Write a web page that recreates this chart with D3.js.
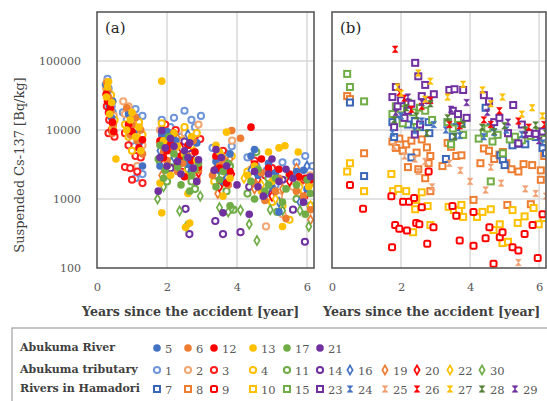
<!DOCTYPE html>
<html>
<head>
<meta charset="utf-8">
<script src="https://cdn.jsdelivr.net/npm/d3@7"></script>
<style>
  body { margin: 0; background: #fff; }
  svg text { font-family: "DejaVu Serif", serif; }
</style>
</head>
<body>
<script>
// tick values
var xTicks = [0, 2, 4, 6];
var yTicks = [100, 1000, 10000, 100000];

// legend groups (row label -> station ids)
var rowLabels = ["Abukuma River", "Abukuma tributary", "Rivers in Hamadori"];
var riverIds = ["5", "6", "12", "13", "17", "21"];
var tributaryIds = ["1", "2", "3", "4", "11", "14", "16", "19", "20", "22", "30"];
var hamadoriIds = ["7", "8", "9", "10", "15", "23", "24", "25", "26", "27", "28", "29"];

// ---- panel (a): [years, Bq/kg] ----
// Abukuma River (filled circles)
var st5 = [[0.3,36000],[0.35,22000],[0.42,15000],[0.26,45000],[0.45,26000],[0.9,17000],[1.05,9000],[1.2,6500],[1.3,3000],[1.85,8500],[1.8,3000],[2.0,9500],[2.1,5200],[2.25,7000],[2.4,3800],[2.6,3200],[2.7,2600],[2.85,6500],[3.4,3500],[3.5,2600],[3.6,1800],[3.8,4500],[4.4,4200],[4.5,5200],[4.6,2200],[4.9,3300],[5.0,1500],[5.1,2400],[5.2,650],[5.7,2500],[5.9,2600],[6.0,1400]];
var st6 = [[0.28,48000],[0.3,38000],[0.33,30000],[0.36,26000],[0.4,19000],[0.44,9000],[0.46,12000],[0.85,21000],[0.95,8500],[1.0,12000],[1.1,15000],[1.15,7000],[1.25,10000],[1.3,4500],[1.8,6500],[1.9,4800],[2.0,3600],[2.15,5500],[2.3,2500],[2.45,3300],[2.6,4200],[2.75,7000],[2.85,1800],[2.9,2600],[3.3,2200],[3.5,3000],[3.6,3800],[3.75,1600],[3.85,9800],[4.1,7600],[4.5,1700],[4.7,2400],[4.8,950],[5.1,1300],[5.2,2000],[5.4,520],[5.7,1300],[5.9,1100],[6.05,1600],[6.1,700]];
var st12 = [[0.26,33000],[0.3,26000],[0.33,18000],[0.38,21000],[0.44,13000],[0.48,9500],[0.9,12000],[1.0,9500],[1.2,5500],[1.3,7200],[1.8,7000],[1.9,4000],[2.0,5000],[2.1,6200],[2.2,9000],[2.3,3000],[2.4,4200],[2.5,2100],[2.6,6000],[2.7,3600],[2.8,4800],[2.9,2900],[3.4,4200],[3.5,2800],[3.7,1700],[3.8,2500],[4.4,11000],[4.5,3200],[4.7,3800],[4.9,2800],[5.2,2700],[5.5,2300],[5.77,2100],[5.95,2000],[6.1,1900]];
var st13 = [[0.27,30000],[0.3,42000],[0.33,50000],[0.36,17000],[0.42,25000],[0.54,3800],[0.85,10000],[0.95,14000],[1.0,18000],[1.1,8000],[1.2,11000],[1.25,5000],[1.85,51000],[1.8,1700],[1.85,630],[1.9,7000],[2.0,3000],[2.1,2200],[2.2,9000],[2.3,5800],[2.5,4500],[2.6,1200],[2.53,390],[2.65,450],[2.7,8000],[2.85,3600],[3.4,6000],[3.5,4800],[3.7,9300],[3.6,1100],[3.8,2000],[4.3,2200],[4.5,3000],[4.7,1300],[4.9,4800],[5.2,5500],[5.37,5900],[5.0,1800],[5.75,4800],[5.3,400],[6.05,1500]];
var st17 = [[1.75,3800],[1.8,6000],[1.9,2000],[1.95,2600],[2.05,8000],[2.2,4500],[2.3,2900],[2.4,1600],[2.55,4000],[2.65,1300],[2.7,2200],[2.8,2700],[2.9,3300],[3.4,1500],[3.5,1900],[3.6,2500],[3.75,3300],[3.8,800],[4.4,1800],[4.5,1000],[4.6,2700],[4.8,1300],[4.9,1600],[5.1,2000],[5.3,900],[5.4,1400],[5.7,1600],[5.95,600],[6.0,1900],[6.1,1200]];
var st21 = [[1.75,1300],[1.8,4000],[1.85,9800],[1.95,5500],[2.0,3000],[2.1,7500],[2.2,5800],[2.3,3500],[2.4,2300],[2.5,5000],[2.6,4000],[2.65,6500],[2.75,2800],[2.85,1800],[2.9,3700],[3.35,2600],[3.4,5200],[3.55,4000],[3.6,630],[3.7,3000],[4.0,1600],[4.35,600],[4.5,2500],[4.6,1500],[4.75,1100],[4.9,2300],[5.0,3800],[5.2,1800],[5.4,2700],[5.6,2000],[5.9,900],[6.1,2100]];
// Abukuma tributaries (open circles, diamonds)
var st1 = [[0.25,45000],[0.3,55000],[0.33,40000],[0.38,30000],[0.42,22000],[0.45,18000],[0.74,18000],[0.85,14000],[0.95,11000],[1.0,7000],[1.1,20000],[1.2,15000],[1.3,16000],[1.3,2300],[1.1,2000],[1.85,14000],[1.9,9000],[2.1,11000],[2.2,15000],[2.3,6500],[2.4,8000],[2.5,19000],[2.7,14000],[2.8,11000],[2.85,7000],[2.97,16000],[3.3,5500],[3.4,2500],[3.5,3500],[3.65,4700],[3.85,5800],[4.3,4000],[4.55,3000],[4.85,2600],[5.1,1600],[5.3,3400],[5.7,3400],[5.95,4200],[6.15,3000]];
var st2 = [[0.26,40000],[0.28,50000],[0.31,22000],[0.34,35000],[0.4,25000],[0.44,13000],[0.48,16000],[0.75,26000],[0.8,17000],[0.9,22000],[1.0,9000],[1.05,16000],[1.2,11000],[1.25,5000],[1.3,6000],[1.15,3000],[1.8,10000],[1.95,4000],[2.05,7000],[2.2,6000],[2.35,4800],[2.5,9000],[2.65,3000],[2.75,5000],[2.9,12000],[2.85,2000],[3.35,2600],[3.4,4000],[3.5,1500],[3.7,2800],[3.86,7000],[4.4,2700],[4.6,1700],[4.83,400],[5.2,1100],[5.6,1500],[5.8,1700],[6.1,2200],[5.3,600]];
var st3 = [[0.28,22000],[0.33,9000],[0.35,14000],[0.42,10000],[0.46,12500],[0.5,8000],[0.8,9000],[0.9,6000],[0.8,2900],[0.95,2800],[1.0,1900],[1.1,4200],[1.15,2500],[1.25,4000],[1.3,1700],[1.85,6200],[1.95,12000],[2.05,4500],[2.15,8000],[2.25,10000],[2.4,2500],[2.6,5200],[2.75,3200],[2.8,7400],[2.95,7400],[3.4,2000],[3.5,3000],[3.6,5000],[4.5,3600],[4.8,2200],[5.0,2800],[5.9,1900]];
var st4 = [[0.3,38000],[0.36,24000],[0.4,32000],[0.45,11000],[0.5,14000],[0.8,12000],[0.9,8000],[1.0,5000],[1.1,10000],[1.2,13000],[1.3,8500],[1.85,12500],[1.95,8000],[2.05,4200],[2.2,3000],[2.4,7000],[2.5,11000],[2.6,2200],[2.7,6000],[2.85,9000],[3.35,1800],[3.45,3000],[3.55,2200],[3.75,3500],[3.85,4200],[4.3,2500],[4.6,1500],[5.0,900],[5.3,800],[5.75,1200],[6.1,1700],[5.5,500]];
var st11 = [[1.8,3500],[1.9,5200],[2.0,1800],[2.15,3500],[2.25,6000],[2.45,4300],[2.6,2700],[2.7,1800],[2.8,1400],[3.4,2200],[3.55,1700],[3.7,1300],[3.8,3000],[3.9,700],[4.3,1200],[4.55,4800],[4.9,2000],[5.15,650],[5.5,2200],[5.7,1000],[6.1,800]];
var st14 = [[1.85,5000],[1.9,8000],[2.1,2800],[2.3,4000],[2.5,6800],[2.64,310],[2.53,720],[2.7,4500],[2.85,3100],[3.38,480],[3.45,2800],[3.6,310],[3.7,1900],[4.1,330],[4.35,1500],[4.6,2500],[5.0,1200],[5.3,1900],[5.6,700],[5.94,240],[6.05,2000]];
var st16 = [[1.8,5000],[2.2,4000],[2.6,8500],[3.4,4300],[3.7,2000],[4.4,2600],[4.8,1100],[5.2,900],[5.8,900],[6.0,3000]];
var st19 = [[1.85,2200],[2.3,7500],[2.8,3200],[3.45,1200],[3.8,3800],[4.5,1400],[4.9,3100],[5.3,1400],[5.7,2800],[6.1,500]];
var st20 = [[1.9,3300],[2.4,5500],[2.9,2400],[3.5,1500],[3.85,2300],[4.6,1900],[5.0,1100],[5.5,1800],[6.0,1200]];
var st22 = [[1.95,7000],[2.5,2300],[3.6,4000],[4.2,2000],[4.7,1600],[5.1,1000],[5.8,1500],[6.1,800]];
var st30 = [[1.73,1000],[1.9,1500],[2.36,670],[2.55,400],[2.95,1100],[3.5,750],[3.75,650],[3.85,740],[4.1,690],[4.35,430],[4.57,250],[4.95,700],[5.3,680],[5.8,680],[6.05,400]];

// ---- panel (b): Rivers in Hamadori ----
var st7 = [[0.52,25000],[0.93,2150],[1.75,13000],[1.8,7900],[2.05,14000],[2.2,12000],[2.4,13500],[2.55,11000],[2.8,13000],[2.82,9000],[2.3,4000],[1.9,17000],[3.35,13000],[3.6,11000],[3.75,12500],[3.5,8000],[3.3,3800],[4.45,21000],[4.6,11000],[4.88,4300],[4.95,3700],[5.0,3100],[5.23,6000],[5.4,6300],[5.6,6200],[5.9,7900],[6.1,5500],[6.2,4600]];
var st8 = [[0.44,31000],[0.52,28000],[0.93,4600],[1.75,6800],[1.85,5500],[1.95,7500],[2.05,5000],[2.15,6200],[2.3,7000],[2.45,4700],[2.6,7300],[2.75,5600],[2.85,4200],[2.2,2900],[2.5,2700],[2.7,2000],[2.85,1300],[2.8,3300],[3.35,6500],[3.45,5700],[3.6,4200],[3.75,4300],[3.2,3000],[4.4,5400],[4.55,5000],[4.7,3800],[4.85,4400],[4.3,3300],[4.95,4800],[5.05,3300],[5.2,2700],[5.4,2500],[5.55,3200],[5.8,3100],[6.05,2600],[6.15,4200],[4.1,970],[5.08,820],[5.76,840],[6.05,1900]];
var st9 = [[0.52,1600],[0.9,720],[1.72,1100],[2.06,910],[2.23,910],[2.38,1030],[2.6,760],[1.83,420],[1.95,370],[2.17,350],[2.44,450],[2.53,430],[2.94,390],[2.76,225],[1.74,200],[2.8,2500],[3.49,790],[3.6,570],[4.1,650],[3.7,250],[4.1,210],[4.45,270],[4.56,390],[4.68,115],[4.86,280],[4.94,330],[5.23,200],[5.4,180],[5.58,310],[5.81,420],[5.96,140],[6.1,600]];
var st10 = [[0.52,3300],[0.44,2500],[0.93,1300],[1.72,2300],[1.77,1300],[1.92,1400],[2.15,1300],[2.44,970],[2.41,710],[2.6,1250],[2.77,790],[2.85,420],[2.35,330],[3.38,770],[3.53,690],[3.68,690],[3.75,820],[3.8,550],[4.2,550],[4.36,650],[4.6,710],[4.86,430],[4.68,355],[4.94,230],[5.1,240],[5.23,690],[5.38,450],[5.58,560],[5.84,740],[5.99,430],[6.13,530]];
var st15 = [[0.44,65000],[0.52,42000],[0.93,26000],[1.75,17000],[1.85,22000],[2.0,20000],[2.2,25000],[2.35,18000],[2.55,21000],[2.7,19000],[2.9,14000],[2.05,12500],[2.45,11000],[3.35,13000],[3.5,10500],[3.65,14500],[3.8,8500],[3.45,6200],[4.4,9000],[4.5,10500],[4.65,6800],[4.8,8500],[4.25,7500],[4.95,4600],[4.6,1800],[5.15,7300],[5.3,8000],[5.5,7100],[5.75,8200],[6.0,9500],[6.15,7500]];
var st23 = [[1.75,30000],[1.85,42000],[1.9,22000],[2.0,27000],[2.2,19000],[2.3,24000],[2.41,94000],[2.5,60000],[2.6,31000],[2.7,45000],[2.8,27000],[2.95,33000],[2.1,15000],[2.4,8600],[2.55,12000],[1.8,11000],[3.4,38000],[3.55,39000],[3.8,38000],[3.5,19000],[3.65,17000],[3.9,15000],[4.4,32000],[4.55,26000],[4.7,13000],[4.85,15000],[5.25,23000],[5.1,9000],[5.5,12000],[5.7,9000],[5.9,8800],[6.1,9500],[5.4,6400]];
var st24 = [[1.75,9000],[2.0,16000],[2.4,9800],[2.6,13500],[2.95,12000],[3.3,10000],[3.7,8300],[4.4,8000],[4.7,9200],[5.05,10000],[5.5,8600],[6.1,6500]];
var st25 = [[1.8,5800],[2.1,4200],[2.4,3800],[2.5,2500],[2.7,3500],[2.9,1500],[3.4,3300],[3.72,2600],[4.0,1800],[4.45,1350],[4.6,2900],[4.9,1700],[5.4,120],[5.6,1400],[5.9,1200],[6.2,1100]];
var st26 = [[1.83,148000],[1.95,35000],[2.1,29000],[2.3,20000],[2.6,22000],[2.85,27000],[3.4,12000],[3.7,11500],[4.4,14000],[4.6,12000],[4.85,19000],[5.4,13500],[5.7,11000],[6.15,12000]];
var st27 = [[1.9,42000],[2.0,34000],[2.5,67000],[2.85,51000],[2.7,28000],[3.35,30000],[3.8,46000],[4.36,38000],[4.6,24000],[4.94,30000],[5.5,17000],[5.8,21000],[6.1,16000]];
var st28 = [[1.8,14000],[2.15,21000],[2.45,16000],[2.75,9000],[2.85,24000],[3.35,15000],[3.55,8000],[3.8,12000],[4.35,11000],[4.7,9500],[5.0,11500],[5.6,10000],[5.9,11800],[6.2,9000]];
var st29 = [[1.85,18000],[2.2,30000],[2.6,25000],[3.45,20000],[3.9,25000],[4.5,18000],[5.1,13000],[5.6,8500],[6.0,7000]];

// series table: which data, panel, marker
var series = [
  {id:"1",  pts:st1,  panel:0, shape:"ring",    color:"#7096DA"},
  {id:"2",  pts:st2,  panel:0, shape:"ring",    color:"#F2A772"},
  {id:"3",  pts:st3,  panel:0, shape:"ring",    color:"#FF1F1F"},
  {id:"4",  pts:st4,  panel:0, shape:"ring",    color:"#FFC000"},
  {id:"11", pts:st11, panel:0, shape:"ring",    color:"#70AD47"},
  {id:"14", pts:st14, panel:0, shape:"ring",    color:"#7030A0"},
  {id:"16", pts:st16, panel:0, shape:"diamond", color:"#4472C4"},
  {id:"19", pts:st19, panel:0, shape:"diamond", color:"#ED7D31"},
  {id:"20", pts:st20, panel:0, shape:"diamond", color:"#FF0000"},
  {id:"22", pts:st22, panel:0, shape:"diamond", color:"#FFC000"},
  {id:"30", pts:st30, panel:0, shape:"diamond", color:"#70AD47"},
  {id:"5",  pts:st5,  panel:0, shape:"dot",     color:"#4472C4"},
  {id:"6",  pts:st6,  panel:0, shape:"dot",     color:"#ED7D31"},
  {id:"12", pts:st12, panel:0, shape:"dot",     color:"#FF0000"},
  {id:"13", pts:st13, panel:0, shape:"dot",     color:"#FFC000"},
  {id:"17", pts:st17, panel:0, shape:"dot",     color:"#70AD47"},
  {id:"21", pts:st21, panel:0, shape:"dot",     color:"#7030A0"},
  {id:"8",  pts:st8,  panel:1, shape:"square",  color:"#ED7D31"},
  {id:"10", pts:st10, panel:1, shape:"square",  color:"#FFC000"},
  {id:"9",  pts:st9,  panel:1, shape:"rsquare", color:"#FF0000"},
  {id:"7",  pts:st7,  panel:1, shape:"square",  color:"#3B66B8"},
  {id:"15", pts:st15, panel:1, shape:"square",  color:"#70AD47"},
  {id:"23", pts:st23, panel:1, shape:"square",  color:"#7030A0"},
  {id:"24", pts:st24, panel:1, shape:"x",       color:"#4472C4"},
  {id:"25", pts:st25, panel:1, shape:"x",       color:"#F0A070"},
  {id:"26", pts:st26, panel:1, shape:"x",       color:"#FF0000"},
  {id:"27", pts:st27, panel:1, shape:"x",       color:"#FFC000"},
  {id:"28", pts:st28, panel:1, shape:"x",       color:"#548235"},
  {id:"29", pts:st29, panel:1, shape:"x",       color:"#7030A0"}
];

var W = 547, H = 401;
var svg = d3.select("body").append("svg")
            .attr("width", W)
            .attr("height", H);

var plotTop = 12, plotBottom = 268;
var panels = [
  {left: 97,  right: 314, tag: "(a)"},
  {left: 332, right: 546, tag: "(b)"}
];

var yScale = d3.scaleLog()
               .domain([100, Math.pow(10, 5.71)])
               .range([plotBottom, plotTop]);

panels.forEach(function(p) {
  p.x = d3.scaleLinear().domain([0, 6.2]).range([p.left, p.right]);
});

function marker(g, shape, color) {
  if (shape === "dot") {
    g.append("circle").attr("r", 3.8).attr("fill", color);
  } else if (shape === "ring") {
    g.append("circle").attr("r", 3.1)
     .attr("fill", "#fff").attr("stroke", color).attr("stroke-width", 2);
  } else if (shape === "diamond") {
    g.append("path").attr("d", d3.symbol(d3.symbolDiamond, 24)())
     .attr("fill", "#fff").attr("stroke", color).attr("stroke-width", 1.7);
  } else if (shape === "square" || shape === "rsquare") {
    g.append("rect").attr("x", -3).attr("y", -3).attr("width", 6).attr("height", 6)
     .attr("rx", shape === "rsquare" ? 1.5 : 0)
     .attr("fill", "#fff").attr("stroke", color).attr("stroke-width", 2);
  } else if (shape === "x") {
    g.append("path").attr("d", "M-2.8,-3.2L2.8,-3.2L-2.8,3.2L2.8,3.2Z")
     .attr("fill", color).attr("stroke", color).attr("stroke-width", 0.6);
  }
}

panels.forEach(function(p, i) {
  var g = svg.append("g");

  // gridlines
  g.selectAll(".gx").data(xTicks.filter(function(t) { return t > 0; }))
   .enter().append("line")
   .attr("x1", function(d) { return p.x(d); }).attr("x2", function(d) { return p.x(d); })
   .attr("y1", plotTop).attr("y2", plotBottom)
   .attr("stroke", "#D9D9D9").attr("stroke-width", 1.5);
  g.selectAll(".gy").data(yTicks.slice(1))
   .enter().append("line")
   .attr("x1", p.left).attr("x2", p.right)
   .attr("y1", function(d) { return yScale(d); }).attr("y2", function(d) { return yScale(d); })
   .attr("stroke", "#D9D9D9").attr("stroke-width", 1.5);

  // points
  var clipId = "clip" + i;
  svg.append("clipPath").attr("id", clipId)
     .append("rect").attr("x", p.left).attr("y", plotTop)
     .attr("width", p.right - p.left).attr("height", plotBottom - plotTop);
  var pg = g.append("g").attr("clip-path", "url(#" + clipId + ")");
  series.filter(function(s) { return s.panel === i; }).forEach(function(s) {
    pg.selectAll(null).data(s.pts).enter().append("g")
      .attr("transform", function(d) { return "translate(" + p.x(d[0]) + "," + yScale(d[1]) + ")"; })
      .each(function() { marker(d3.select(this), s.shape, s.color); });
  });

  // frame
  g.append("rect")
   .attr("x", p.left).attr("y", plotTop)
   .attr("width", p.right - p.left).attr("height", plotBottom - plotTop)
   .attr("fill", "none").attr("stroke", "#595959").attr("stroke-width", 1.6);

  g.append("text")
   .attr("x", p.left + 8).attr("y", 33)
   .style("font-size", "15px").attr("fill", "#262626")
   .text(p.tag);

  // x axis
  var xa = g.append("g")
            .attr("transform", "translate(0," + plotBottom + ")")
            .call(d3.axisBottom(p.x).tickValues(xTicks).tickFormat(d3.format("d")).tickSize(0).tickPadding(15));
  xa.select(".domain").remove();
  xa.selectAll("text").style("font-size", "11.5px").attr("fill", "#595959")
    .style("font-family", "DejaVu Serif");

  g.append("text")
   .attr("x", i === 0 ? 82 : 323).attr("y", 316)
   .style("font-size", "12.6px").style("font-weight", "bold").attr("fill", "#404040")
   .text("Years since the accident [year]");
});

// y axis on panel (a)
var ya = svg.append("g")
            .attr("transform", "translate(" + panels[0].left + ",0)")
            .call(d3.axisLeft(yScale).tickValues(yTicks).tickFormat(d3.format("d")).tickSize(0).tickPadding(16));
ya.select(".domain").remove();
ya.selectAll("text").style("font-size", "11px").attr("fill", "#595959")
  .style("font-family", "DejaVu Serif");

svg.append("text")
   .attr("transform", "translate(24,165) rotate(-90)")
   .attr("text-anchor", "middle")
   .style("font-size", "13px").attr("fill", "#404040")
   .text("Suspended Cs-137 [Bq/kg]");

// legend
svg.append("rect")
   .attr("x", 12).attr("y", 328).attr("width", 545).attr("height", 80)
   .attr("fill", "#fff").attr("stroke", "#A6A6A6").attr("stroke-width", 1.3);

var cols = [157, 188, 214, 253, 287, 320, 350, 385, 417, 450, 482, 515];
var rowY = [348, 370, 389];
var rowIds = [riverIds, tributaryIds, hamadoriIds];
var byId = {};
series.forEach(function(s) { byId[s.id] = s; });

rowLabels.forEach(function(lab, r) {
  svg.append("text")
     .attr("x", 20).attr("y", rowY[r] + 3)
     .style("font-size", "11px").style("font-weight", "bold").attr("fill", "#404040")
     .text(lab);
  rowIds[r].forEach(function(id, c) {
    var s = byId[id];
    var mg = svg.append("g").attr("transform", "translate(" + cols[c] + "," + rowY[r] + ")");
    marker(mg, s.shape, s.color);
    svg.append("text")
       .attr("x", cols[c] + 8).attr("y", rowY[r] + 4.5)
       .style("font-size", "11.5px").attr("fill", "#595959")
       .text(id);
  });
});
</script>
</body>
</html>
